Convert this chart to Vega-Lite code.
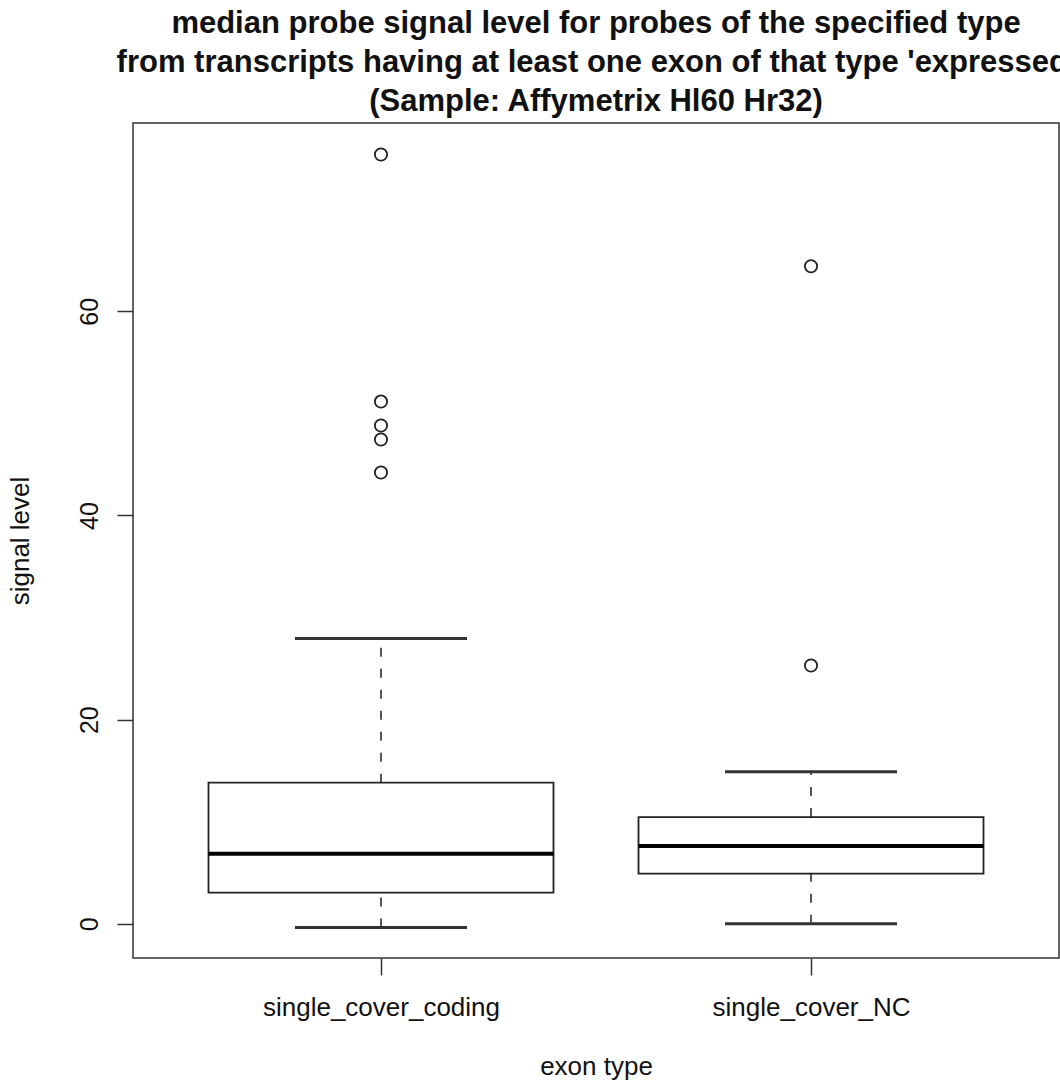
{
  "$schema": "https://vega.github.io/schema/vega-lite/v6.json",
  "autosize": "none",
  "width": 926,
  "height": 835,
  "padding": {"left": 133, "top": 123, "right": 1, "bottom": 124},
  "background": "white",
  "config": {
    "font": "Liberation Sans",
    "view": {"stroke": "#333", "strokeWidth": 1.5}
  },
  "title": {
    "text": ["median probe signal level for probes of the specified type", "from transcripts having at least one exon of that type 'expressed'", "(Sample: Affymetrix Hl60 Hr32)"],
    "font": "Liberation Sans",
    "fontSize": 31,
    "fontWeight": "bold",
    "color": "#111",
    "lineHeight": 39,
    "anchor": "middle",
    "frame": "group",
    "baseline": "bottom",
    "offset": 12,
    "dy": 38
  },
  "datasets": {
    "boxes": [
      {"type": "single_cover_coding", "lower": -0.37, "q1": 3.05, "median": 6.87, "q3": 13.83, "upper": 27.95},
      {"type": "single_cover_NC", "lower": 0.0, "q1": 4.92, "median": 7.62, "q3": 10.46, "upper": 14.9}
    ],
    "outliers": [
      {"type": "single_cover_coding", "value": 75.36},
      {"type": "single_cover_coding", "value": 51.16},
      {"type": "single_cover_coding", "value": 48.81},
      {"type": "single_cover_coding", "value": 47.44},
      {"type": "single_cover_coding", "value": 44.21},
      {"type": "single_cover_NC", "value": 64.41},
      {"type": "single_cover_NC", "value": 25.31}
    ]
  },
  "encoding": {
    "x": {
      "field": "type",
      "type": "nominal",
      "sort": ["single_cover_coding", "single_cover_NC"],
      "scale": {"type": "point", "padding": 0.5767, "domain": ["single_cover_coding", "single_cover_NC"]},
      "axis": {
        "title": "exon type",
        "labelAngle": 0,
        "labelFontSize": 26,
        "labelLimit": 500,
        "labelColor": "#111",
        "labelPadding": 19,
        "tickSize": 17,
        "tickColor": "#333",
        "tickWidth": 1.5,
        "domain": false,
        "grid": false,
        "titleFontSize": 26,
        "titleFontWeight": "normal",
        "titleColor": "#111",
        "titlePadding": 33
      }
    }
  },
  "layer": [
    {
      "data": {"name": "boxes"},
      "mark": {"type": "rule", "strokeDash": [9, 12], "stroke": "#555", "strokeWidth": 2},
      "encoding": {
        "y": {
          "field": "q3",
          "type": "quantitative",
          "scale": {"domain": [-3.35, 78.45], "nice": false, "zero": false},
          "axis": {
            "title": "signal level",
            "values": [0, 20, 40, 60],
            "labelAngle": 270,
            "labelFontSize": 25,
            "labelColor": "#111",
            "labelPadding": 15,
            "tickSize": 16,
            "tickColor": "#333",
            "tickWidth": 1.5,
            "domain": false,
            "grid": false,
            "titleFontSize": 26,
            "titleFontWeight": "normal",
            "titleColor": "#111",
            "titlePadding": 44
          }
        },
        "y2": {"field": "upper"}
      }
    },
    {
      "data": {"name": "boxes"},
      "mark": {"type": "rule", "strokeDash": [9, 12], "stroke": "#555", "strokeWidth": 2},
      "encoding": {
        "y": {"field": "lower", "type": "quantitative"},
        "y2": {"field": "q1"}
      }
    },
    {
      "data": {"name": "boxes"},
      "mark": {"type": "bar", "size": 345, "fill": "white", "stroke": "#222", "strokeWidth": 1.8},
      "encoding": {
        "y": {"field": "q1", "type": "quantitative"},
        "y2": {"field": "q3"}
      }
    },
    {
      "data": {"name": "boxes"},
      "mark": {"type": "tick", "size": 345, "thickness": 4, "color": "#000", "opacity": 1},
      "encoding": {
        "y": {"field": "median", "type": "quantitative"}
      }
    },
    {
      "data": {"name": "boxes"},
      "mark": {"type": "tick", "size": 172, "thickness": 3, "color": "#333", "opacity": 1},
      "encoding": {
        "y": {"field": "upper", "type": "quantitative"}
      }
    },
    {
      "data": {"name": "boxes"},
      "mark": {"type": "tick", "size": 172, "thickness": 3, "color": "#333", "opacity": 1},
      "encoding": {
        "y": {"field": "lower", "type": "quantitative"}
      }
    },
    {
      "data": {"name": "outliers"},
      "mark": {"type": "point", "shape": "circle", "filled": false, "size": 150, "stroke": "#222", "strokeWidth": 1.8, "opacity": 1},
      "encoding": {
        "y": {"field": "value", "type": "quantitative"}
      }
    }
  ]
}
